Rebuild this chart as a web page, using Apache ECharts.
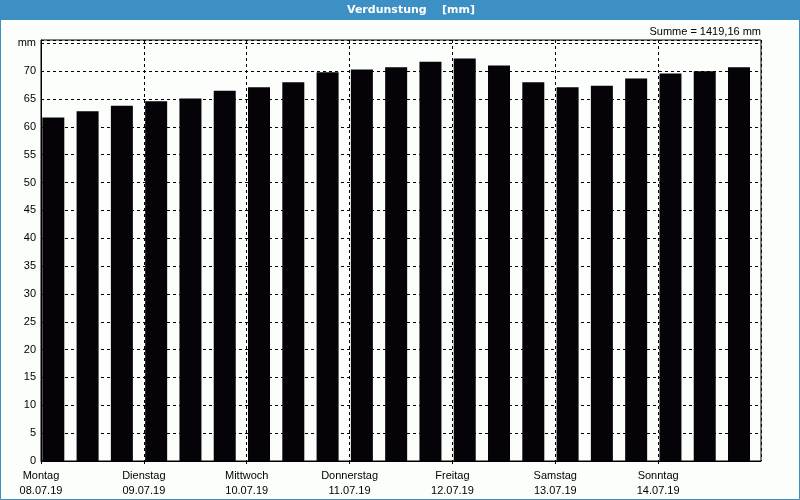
<!DOCTYPE html>
<html><head><meta charset="utf-8">
<script src="https://cdn.jsdelivr.net/npm/echarts@6/dist/echarts.min.js"></script>
<style>html,body{margin:0;padding:0;background:#fcfefc}#c{width:800px;height:500px}</style>
</head><body><div id="c"></div>
<script>
const dayNames = ['Montag','Dienstag','Mittwoch','Donnerstag','Freitag','Samstag','Sonntag'];
const dayDates = ['08.07.19','09.07.19','10.07.19','11.07.19','12.07.19','13.07.19','14.07.19'];
const slots = ['1','2','3','4','5','6','7','8','9','10','11','12','13','14','15','16','17','18','19','20','21'];
const evaporation = [61.7,62.8,63.8,64.6,65.1,66.5,67.1,68.0,69.8,70.3,70.7,71.7,72.3,71.0,68.0,67.1,67.4,68.7,69.6,70.0,70.7];
const titleText = 'Verdunstung    [mm]';
const sumText = 'Summe = 1419,16 mm';
const yUnit = 'mm';

const FONT = 'Liberation Sans';
const chart = echarts.init(document.getElementById('c'), null, {renderer:'canvas'});
const dash = {color:'#000', type:[3,3], width:1};
chart.setOption({
  animation:false,
  backgroundColor:'#fcfefc',
  textStyle:{fontFamily:FONT},
  grid:{left:41,right:39,top:40,bottom:39,show:true,borderColor:'#000',borderWidth:1,backgroundColor:'transparent'},
  xAxis:[
    {type:'category',data:slots,show:false,boundaryGap:true},
    {type:'value',min:0,max:7,interval:1,position:'bottom',
     axisLine:{show:true,lineStyle:{color:'#000'}},
     axisTick:{show:true,length:3,lineStyle:{color:'#000'}},
     splitLine:{show:true,lineStyle:dash},
     axisLabel:{show:true,color:'#000',fontFamily:FONT,fontSize:11,margin:7,lineHeight:15,
       showMaxLabel:false,
       formatter:function(v){return v<7 ? dayNames[v]+'\n'+dayDates[v] : '';}}}
  ],
  yAxis:{type:'value',min:0,max:75.6,interval:5,
    axisLine:{show:true,lineStyle:{color:'#000'}},
    axisTick:{show:false},
    splitLine:{show:true,lineStyle:dash},
    axisLabel:{color:'#000',fontFamily:FONT,fontSize:11,margin:5,showMaxLabel:false,
      formatter:function(v){return v===75 ? yUnit : (v<=75 ? String(v) : '');}}},
  series:[
    {type:'bar',xAxisIndex:0,data:evaporation,barWidth:22,barGap:'-56%',itemStyle:{color:'#050307'},z:3},
    {type:'bar',xAxisIndex:0,data:evaporation.map(function(){return null;}),barWidth:22,itemStyle:{color:'transparent'}}
  ],
  graphic:[
    {type:'rect',shape:{x:0.5,y:0.5,width:799,height:499},style:{fill:'none',stroke:'#3d90c4',lineWidth:1},z:10},
    {type:'rect',shape:{x:0,y:0,width:800,height:20},style:{fill:'#3d90c4'},z:11},
    {type:'text',x:347,y:10,style:{text:titleText,fill:'#fff',font:'bold 11px "DejaVu Sans"',textAlign:'left',textVerticalAlign:'middle'},z:12},
    {type:'text',x:761,y:32,style:{text:sumText,fill:'#000',font:'11px "Liberation Sans"',textAlign:'right',textVerticalAlign:'middle'},z:12}
  ]
});
</script></body></html>
